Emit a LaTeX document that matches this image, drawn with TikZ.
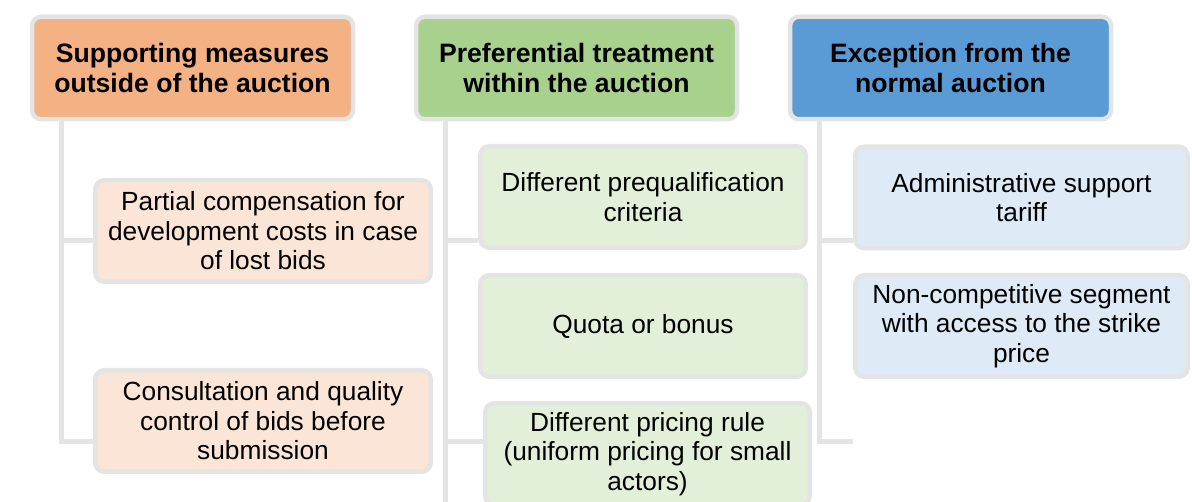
\documentclass[tikz,border=0pt]{standalone}
\usepackage{fontspec}
\setmainfont{Liberation Sans}

\definecolor{rimgrey}{HTML}{E4E4E4}
\definecolor{headorange}{HTML}{F4B183}
\definecolor{headgreen}{HTML}{A9D18E}
\definecolor{headblue}{HTML}{5B9BD5}
\definecolor{itemorange}{HTML}{FBE5D6}
\definecolor{itemgreen}{HTML}{E2F0D9}
\definecolor{itemblue}{HTML}{DEEBF7}

\tikzset{
  box/.style={draw=rimgrey, line width=4.5pt, rounded corners=9pt, inner sep=0pt,
    align=center, minimum height=101.5pt, font=\fontsize{26.3}{29.5}\selectfont},
  head/.style={box, minimum width=321pt, minimum height=102.5pt,
    font=\bfseries\fontsize{26.6}{30.8}\selectfont},
  link/.style={draw=rimgrey, line width=5pt},
}

\begin{document}
\begin{tikzpicture}[x=1pt, y=-1pt]
    \useasboundingbox (0,0) rectangle (1192,502);

    % three headers
    \node[head, fill=headorange] (h1) at (192.5,68) {Supporting measures\\outside of the auction};
    \node[head, fill=headgreen]  (h2) at (576.5,68) {Preferential treatment\\within the auction};
    \node[head, fill=headblue]   (h3) at (950.5,68) {Exception from the\\normal auction};

    % left column
    \node[box, fill=itemorange, minimum width=335.5pt] (l1) at (263,231) {Partial compensation for\\development costs in case\\of lost bids};
    \node[box, fill=itemorange, minimum width=335.5pt] (l2) at (263,421) {Consultation and quality\\control of bids before\\submission};

    % middle column
    \node[box, fill=itemgreen, minimum width=325.5pt] (m1) at (643,197) {Different prequalification\\criteria};
    \node[box, fill=itemgreen, minimum width=325.5pt] (m2) at (643,326) {Quota or bonus};
    \node[box, fill=itemgreen, minimum width=324.5pt] (m3) at (647.5,454) {Different pricing rule\\(uniform pricing for small\\actors)};

    % right column
    \node[box, fill=itemblue, minimum width=332.5pt] (r1) at (1021.5,197.5) {Administrative support\\tariff};
    \node[box, fill=itemblue, minimum width=332.5pt] (r2) at (1021.5,326) {Non-competitive segment\\with access to the strike\\price};

    % branch levels and trunk tops
    \coordinate (upper) at (0,241);
    \coordinate (lower) at (0,442);
    \coordinate (t1) at ([xshift=32pt]h1.south west);
    \coordinate (t2) at ([xshift=32pt]h2.south west);
    \coordinate (t3) at ([xshift=32pt]h3.south west);
    \coordinate (t2end) at (t2 |- 0,510);
    \coordinate (r3) at (853,442);

    % left trunk
    \draw[link] (t1) |- (l1.west |- upper);
    \draw[link] (t1) |- (l2.west |- lower);
    % middle trunk runs off the bottom
    \draw[link] (t2) -- (t2end);
    \draw[link] (t2 |- upper) -- (m1.west |- upper);
    \draw[link] (t2 |- lower) -- (m3.west |- lower);
    % right trunk, last branch ends open
    \draw[link] (t3) |- (r1.west |- upper);
    \draw[link] (t3) |- (r3);
\end{tikzpicture}
\end{document}
